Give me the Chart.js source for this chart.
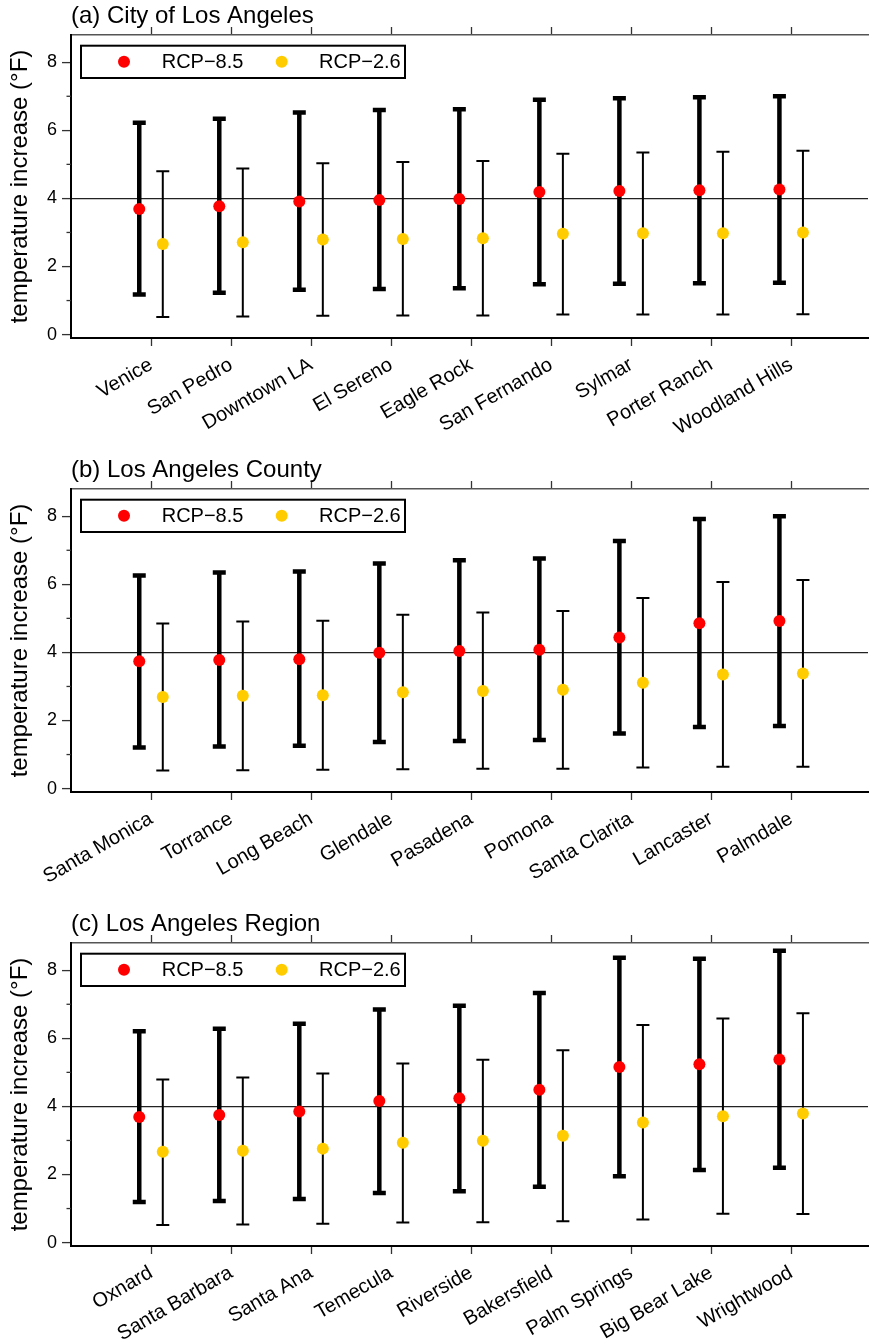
<!DOCTYPE html>
<html><head><meta charset="utf-8">
<script src="https://cdn.jsdelivr.net/npm/chart.js@4.4.0/dist/chart.umd.min.js"></script>
<style>
html,body{margin:0;padding:0;background:#fff;}
#wrap{position:relative;width:874px;height:1340px;overflow:hidden;}
canvas{position:absolute;left:0;}
</style></head><body>
<div id="wrap">
<canvas id="ca" width="874" height="454" style="top:0px"></canvas>
<canvas id="cb" width="874" height="454" style="top:454px"></canvas>
<canvas id="cc" width="874" height="432" style="top:908px"></canvas>
</div>
<script>
// ---------- data ----------
const seriesLabels = ['RCP\u22128.5', 'RCP\u22122.6'];
const yTickValues = [0, 2, 4, 6, 8];
const yMinorTickValues = [1, 3, 5, 7];
const referenceLine = 4;

const titleA = '(a) City of Los Angeles';
const citiesA = ['Venice', 'San Pedro', 'Downtown LA', 'El Sereno', 'Eagle Rock', 'San Fernando', 'Sylmar', 'Porter Ranch', 'Woodland Hills'];
const rcp85MidA  = [3.69, 3.77, 3.91, 3.95, 3.98, 4.19, 4.22, 4.24, 4.26];
const rcp85LowA  = [1.18, 1.23, 1.32, 1.34, 1.36, 1.48, 1.49, 1.51, 1.52];
const rcp85HighA = [6.22, 6.34, 6.52, 6.60, 6.62, 6.90, 6.94, 6.97, 7.00];
const rcp26MidA  = [2.66, 2.71, 2.79, 2.81, 2.83, 2.96, 2.98, 2.98, 3.00];
const rcp26LowA  = [0.52, 0.53, 0.55, 0.56, 0.56, 0.59, 0.59, 0.59, 0.60];
const rcp26HighA = [4.80, 4.88, 5.03, 5.07, 5.10, 5.31, 5.35, 5.37, 5.40];

const titleB = '(b) Los Angeles County';
const citiesB = ['Santa Monica', 'Torrance', 'Long Beach', 'Glendale', 'Pasadena', 'Pomona', 'Santa Clarita', 'Lancaster', 'Palmdale'];
const rcp85MidB  = [3.74, 3.78, 3.80, 3.99, 4.04, 4.08, 4.44, 4.86, 4.92];
const rcp85LowB  = [1.21, 1.24, 1.26, 1.37, 1.40, 1.43, 1.62, 1.81, 1.84];
const rcp85HighB = [6.26, 6.35, 6.38, 6.61, 6.71, 6.76, 7.27, 7.92, 8.00];
const rcp26MidB  = [2.69, 2.73, 2.74, 2.83, 2.87, 2.90, 3.11, 3.35, 3.38];
const rcp26LowB  = [0.53, 0.54, 0.55, 0.57, 0.58, 0.58, 0.62, 0.64, 0.64];
const rcp26HighB = [4.85, 4.91, 4.93, 5.11, 5.17, 5.22, 5.60, 6.07, 6.13];

const titleC = '(c) Los Angeles Region';
const citiesC = ['Oxnard', 'Santa Barbara', 'Santa Ana', 'Temecula', 'Riverside', 'Bakersfield', 'Palm Springs', 'Big Bear Lake', 'Wrightwood'];
const rcp85MidC  = [3.69, 3.75, 3.85, 4.16, 4.24, 4.49, 5.16, 5.24, 5.38];
const rcp85LowC  = [1.19, 1.22, 1.28, 1.46, 1.51, 1.64, 1.95, 2.13, 2.20];
const rcp85HighC = [6.21, 6.28, 6.43, 6.85, 6.96, 7.33, 8.37, 8.34, 8.57];
const rcp26MidC  = [2.67, 2.70, 2.76, 2.93, 2.99, 3.14, 3.53, 3.71, 3.79];
const rcp26LowC  = [0.52, 0.53, 0.55, 0.59, 0.60, 0.63, 0.68, 0.85, 0.84];
const rcp26HighC = [4.79, 4.85, 4.97, 5.26, 5.37, 5.65, 6.39, 6.58, 6.74];

// ---------- styling ----------
const FONT = "'Liberation Sans', Arial, Helvetica, sans-serif";
const PAIR_OFFSET = 0.147;

const errorBars = {
  id: 'errorBars',
  beforeDatasetsDraw(chart) {
    const ctx = chart.ctx, ys = chart.scales.y;
    chart.data.datasets.forEach((ds, di) => {
      const meta = chart.getDatasetMeta(di);
      ctx.save();
      ctx.strokeStyle = '#000';
      ctx.lineCap = 'butt';
      ds.errLow.forEach((lo, i) => {
        const px = meta.data[i].x;
        const yl = ys.getPixelForValue(lo), yh = ys.getPixelForValue(ds.errHigh[i]);
        ctx.lineWidth = ds.errWidth;
        ctx.beginPath(); ctx.moveTo(px, yl); ctx.lineTo(px, yh); ctx.stroke();
        ctx.lineWidth = ds.capWidth;
        ctx.beginPath();
        ctx.moveTo(px - 6.5, yl); ctx.lineTo(px + 6.5, yl);
        ctx.moveTo(px - 6.5, yh); ctx.lineTo(px + 6.5, yh);
        ctx.stroke();
      });
      ctx.restore();
    });
  }
};

const minorTicks = {
  id: 'minorTicks',
  afterDraw(chart) {
    const ctx = chart.ctx, ys = chart.scales.y;
    ctx.save();
    ctx.strokeStyle = '#333';
    ctx.lineWidth = 1.3;
    yMinorTickValues.forEach(v => {
      const py = ys.getPixelForValue(v);
      ctx.beginPath(); ctx.moveTo(ys.right - 4.5, py); ctx.lineTo(ys.right, py); ctx.stroke();
    });
    ctx.restore();
  }
};

const boxLegend = {
  id: 'boxLegend',
  afterDraw(chart) {
    const ctx = chart.ctx, ca = chart.chartArea;
    const x0 = ca.left + 10, y0 = ca.top + 10.7, w = 324, h = 32.3;
    const cy = y0 + h / 2;
    ctx.save();
    ctx.fillStyle = '#fff';
    ctx.fillRect(x0, y0, w, h);
    ctx.strokeStyle = '#000';
    ctx.lineWidth = 2;
    ctx.strokeRect(x0, y0, w, h);
    const dotX = [43, 200.7], textX = [80.7, 238];
    chart.data.datasets.forEach((ds, k) => {
      ctx.fillStyle = ds.backgroundColor;
      ctx.beginPath(); ctx.arc(x0 + dotX[k], cy, 6, 0, Math.PI * 2); ctx.fill();
      ctx.fillStyle = '#000';
      ctx.font = '20px ' + FONT;
      ctx.textAlign = 'left';
      ctx.textBaseline = 'middle';
      ctx.fillText(ds.label, x0 + textX[k], cy + 1);
    });
    ctx.restore();
  }
};

function makePanel(id, title, cats, m85, l85, h85, m26, l26, h26, bottomH) {
  const catTicks = s => { s.ticks = cats.map((c, i) => ({ value: i })); };
  new Chart(document.getElementById(id), {
    type: 'scatter',
    data: {
      datasets: [
        { label: seriesLabels[0], data: cats.map((c, i) => ({ x: i - PAIR_OFFSET, y: m85[i] })),
          backgroundColor: '#ff0000', borderWidth: 0, pointRadius: 6, pointHoverRadius: 6,
          errLow: l85, errHigh: h85, errWidth: 4.5, capWidth: 4.5 },
        { label: seriesLabels[1], data: cats.map((c, i) => ({ x: i + PAIR_OFFSET, y: m26[i] })),
          backgroundColor: '#ffcc00', borderWidth: 0, pointRadius: 6, pointHoverRadius: 6,
          errLow: l26, errHigh: h26, errWidth: 2, capWidth: 2 }
      ]
    },
    options: {
      responsive: false,
      devicePixelRatio: 1,
      animation: false,
      layout: { padding: 0 },
      plugins: { legend: { display: false }, tooltip: { enabled: false } },
      scales: {
        x: {
          type: 'linear', position: 'bottom', min: -1, max: 8.96,
          afterBuildTicks: catTicks,
          afterFit: s => { s.height = bottomH; },
          ticks: { autoSkip: false, minRotation: 30, maxRotation: 30, color: '#000',
                   font: { family: FONT, size: 20 }, padding: 7, callback: v => cats[v] },
          grid: { drawOnChartArea: false, drawTicks: true, tickLength: 8, tickColor: '#333', tickWidth: 1.3 },
          border: { display: true, color: '#000', width: 2 }
        },
        x2: {
          type: 'linear', position: 'top', min: -1, max: 8.96,
          afterBuildTicks: catTicks,
          afterFit: s => { s.height = 35; },
          ticks: { display: false },
          grid: { drawOnChartArea: false, drawTicks: true, tickLength: 8, tickColor: '#333', tickWidth: 1.3 },
          border: { display: true, color: '#555', width: 1.5 },
          title: { display: true, text: title, align: 'start', color: '#000',
                   font: { family: FONT, size: 24 }, padding: { top: 2, bottom: 0 } }
        },
        y: {
          type: 'linear', min: -0.1, max: 8.8,
          afterBuildTicks: s => { s.ticks = yTickValues.map(v => ({ value: v })); },
          afterFit: s => { s.width = 71; },
          ticks: { color: '#000', font: { family: FONT, size: 18 }, padding: 5, callback: v => String(v) },
          grid: { color: c => (c.tick && c.tick.value === referenceLine) ? '#222' : 'rgba(0,0,0,0)',
                  lineWidth: 1.2, drawTicks: true, tickLength: 9, tickColor: '#333', tickWidth: 1.3 },
          border: { display: true, color: '#000', width: 2 },
          title: { display: true, text: 'temperature increase (\u00B0F)', color: '#000',
                   font: { family: FONT, size: 24 }, padding: { top: 6, bottom: 0 } }
        }
      }
    },
    plugins: [errorBars, minorTicks, boxLegend]
  });
}

makePanel('ca', titleA, citiesA, rcp85MidA, rcp85LowA, rcp85HighA, rcp26MidA, rcp26LowA, rcp26HighA, 116);
makePanel('cb', titleB, citiesB, rcp85MidB, rcp85LowB, rcp85HighB, rcp26MidB, rcp26LowB, rcp26HighB, 116);
makePanel('cc', titleC, citiesC, rcp85MidC, rcp85LowC, rcp85HighC, rcp26MidC, rcp26LowC, rcp26HighC, 94);
</script>
</body></html>
